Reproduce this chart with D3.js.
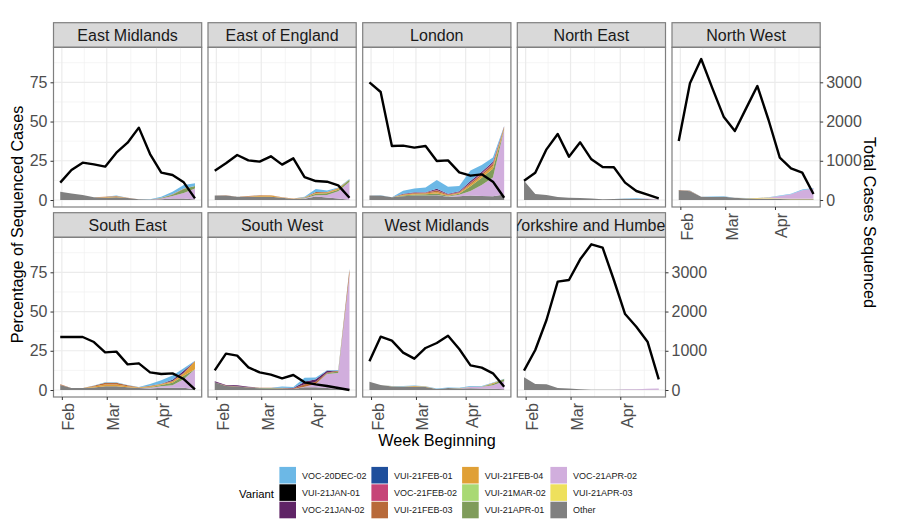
<!DOCTYPE html>
<html>
<head>
<meta charset="utf-8">
<script src="https://cdn.jsdelivr.net/npm/d3@7"></script>
<style>
  body { margin: 0; background: #fff; }
  text { font-family: "Liberation Sans", Arial, sans-serif; }
</style>
</head>
<body>
<script>
const weeks = ['2021-01-31', '2021-02-07', '2021-02-14', '2021-02-21', '2021-02-28', '2021-03-07', '2021-03-14',
  '2021-03-21', '2021-03-28', '2021-04-04', '2021-04-11', '2021-04-18', '2021-04-25'];
const monthTicks = ['2021-02-01', '2021-03-01', '2021-04-01'];
const minorMonthTicks = ['2021-02-15', '2021-03-16', '2021-04-16'];
const percentTicks = [0, 25, 50, 75];
const percentMinorTicks = [12.5, 37.5, 62.5, 87.5];
const casesTicks = [0, 1000, 2000, 3000];

const variants = ['VOC-20DEC-02', 'VUI-21JAN-01', 'VOC-21JAN-02', 'VUI-21FEB-01', 'VOC-21FEB-02', 'VUI-21FEB-03',
  'VUI-21FEB-04', 'VUI-21MAR-02', 'VUI-21APR-01', 'VOC-21APR-02', 'VUI-21APR-03', 'Other'];
const variantColours = ['#6cb8e6', '#000000', '#5f2466', '#1f4f9c', '#c64578', '#b86a3a',
  '#e0a036', '#a9d974', '#7f9c5a', '#d1aedd', '#eee05c', '#808080'];

const regions = ['East Midlands', 'East of England', 'London', 'North East', 'North West',
  'South East', 'South West', 'West Midlands', 'Yorkshire and Humber'];

// total cases sequenced per week (black line, right axis)
const casesEastMidlands = [442, 765, 952, 909, 850, 1206, 1461, 1844, 1172, 697, 637, 450, 42];
const casesEastEngland = [748, 935, 1147, 1011, 977, 1113, 901, 1062, 586, 484, 467, 374, 59];
const casesLondon = [3000, 2753, 1376, 1385, 1334, 1376, 994, 1011, 705, 620, 654, 467, 59];
const casesNorthEast = [493, 697, 1291, 1682, 1105, 1470, 1037, 841, 833, 442, 229, 136, 42];
const casesNorthWest = [1504, 2974, 3594, 2846, 2124, 1759, 2336, 2906, 2039, 1079, 807, 697, 153];
const casesSouthEast = [1351, 1351, 1351, 1223, 960, 977, 654, 680, 450, 408, 425, 280, 17];
const casesSouthWest = [501, 926, 875, 578, 450, 391, 297, 382, 195, 144, 102, 51, 0];
const casesWestMidlands = [731, 1359, 1257, 952, 799, 1071, 1198, 1385, 1045, 629, 569, 425, 85];
const casesYorkshire = [493, 1020, 1784, 2761, 2804, 3331, 3713, 3628, 2804, 1937, 1614, 1232, 272];

// percentage of sequenced cases, only the variants that show up in each region
const sharesEastMidlands = {
  'Other':        [5.3, 4.2, 3.2, 1.7, 1.5, 1.7, 1.2, 0.4, 0.3, 0.5, 1.0, 1.0, 0.3],
  'VOC-21APR-02': [0, 0, 0, 0, 0, 0, 0, 0, 0, 0.5, 1.5, 3.5, 7.0],
  'VUI-21APR-01': [0, 0, 0, 0, 0, 0, 0, 0, 0, 0.3, 0.8, 2.5, 1.7],
  'VUI-21FEB-04': [0, 0, 0, 0, 0.3, 0.5, 0.1, 0, 0, 0, 0, 0, 0],
  'VUI-21FEB-03': [0, 0, 0, 0, 0.2, 0.4, 0.1, 0, 0, 0.2, 0.3, 0.3, 0],
  'VOC-20DEC-02': [0, 0, 0, 0, 0.1, 0.2, 0.1, 0, 0.1, 0.6, 1.7, 2.3, 1.7]
};
const sharesEastEngland = {
  'Other':        [2.8, 2.8, 2.1, 2.1, 2.0, 2.0, 1.4, 0.6, 0.8, 2.3, 1.6, 1.0, 0.2],
  'VOC-21APR-02': [0, 0, 0, 0, 0, 0, 0, 0, 0.3, 0.8, 1.6, 4.5, 11.5],
  'VUI-21APR-01': [0, 0, 0, 0, 0, 0, 0, 0, 0.3, 0.9, 1.1, 1.0, 1.4],
  'VUI-21FEB-04': [0, 0.1, 0, 0.2, 0.7, 0.8, 0.2, 0.2, 0.2, 0.5, 0.5, 0.9, 0],
  'VUI-21FEB-03': [0, 0.1, 0, 0.2, 0.3, 0.2, 0.1, 0.1, 0.1, 0.6, 0.3, 0.2, 0],
  'VOC-20DEC-02': [0, 0, 0, 0, 0.1, 0, 0, 0.1, 0.4, 1.9, 0.9, 0.3, 0.3]
};
const sharesLondon = {
  'Other':        [2.8, 2.8, 1.7, 2.4, 2.8, 2.9, 3.0, 2.0, 2.4, 2.8, 2.6, 2.4, 3.5],
  'VOC-21APR-02': [0, 0, 0, 0, 0, 0, 0.2, 0.3, 1.0, 3.0, 7.0, 12.0, 41.5],
  'VUI-21APR-01': [0, 0, 0, 0.5, 0.7, 0.7, 1.0, 0.4, 0.6, 3.0, 4.5, 5.5, 0.3],
  'VUI-21FEB-04': [0, 0, 0, 0.4, 0.5, 0.5, 0.9, 0.4, 0.5, 1.0, 1.3, 1.8, 0.8],
  'VUI-21FEB-03': [0, 0, 0, 0.4, 0.5, 0.5, 1.0, 0.4, 0.5, 1.0, 1.2, 1.4, 0.6],
  'VOC-21FEB-02': [0, 0, 0, 0, 0.1, 0.1, 0.3, 0.1, 0.1, 0.3, 0.4, 0.4, 0.1],
  'VOC-21JAN-02': [0, 0, 0, 0.3, 0.3, 0.3, 0.8, 0.4, 0.4, 1.0, 1.0, 0.9, 0.2],
  'VOC-20DEC-02': [0, 0.2, 0, 1.9, 2.5, 2.9, 5.5, 4.5, 3.4, 6.7, 4.3, 2.7, 0.2]
};
const sharesNorthEast = {
  'Other':        [12.3, 3.8, 3.2, 1.9, 1.5, 1.3, 0.9, 0.4, 0.6, 0.8, 0.6, 0.6, 0.2],
  'VOC-21APR-02': [0, 0, 0, 0, 0, 0, 0, 0, 0, 0, 0.1, 0.3, 0.1],
  'VOC-20DEC-02': [0, 0, 0, 0, 0, 0, 0, 0, 0, 0.1, 0.4, 0.1, 0]
};
const sharesNorthWest = {
  'Other':        [6.2, 5.6, 2.0, 1.9, 2.0, 1.4, 1.0, 0.8, 0.7, 0.6, 0.5, 0.5, 0.4],
  'VUI-21APR-03': [0, 0, 0, 0, 0, 0, 0, 0.3, 0.4, 0.3, 0.3, 0.3, 0.4],
  'VOC-21APR-02': [0, 0, 0, 0, 0, 0, 0, 0, 0.3, 1.6, 2.8, 5.4, 6.5],
  'VUI-21FEB-04': [0, 0, 0, 0, 0, 0, 0.1, 0.2, 0.2, 0, 0, 0, 0],
  'VUI-21FEB-03': [0.2, 0.3, 0, 0, 0, 0, 0, 0, 0, 0, 0, 0, 0],
  'VOC-20DEC-02': [0, 0.1, 0, 0.3, 0.4, 0.1, 0.1, 0, 0.1, 0.3, 0.4, 0.5, 0.4]
};
const sharesSouthEast = {
  'Other':        [3.2, 1.2, 1.2, 1.6, 2.4, 2.4, 1.8, 1.2, 1.0, 1.4, 1.4, 1.4, 0.4],
  'VOC-21APR-02': [0, 0, 0, 0, 0, 0, 0, 0.1, 0.4, 1.0, 1.7, 5.5, 12.8],
  'VUI-21APR-01': [0, 0, 0, 0, 0, 0, 0, 0, 0.4, 0.8, 1.5, 2.2, 0.1],
  'VUI-21FEB-04': [0, 0, 0, 0.6, 1.1, 1.1, 0.6, 0.3, 0.4, 0.4, 0.8, 1.5, 5.0],
  'VUI-21FEB-03': [0.4, 0.1, 0.1, 0.5, 1.1, 1.1, 0.6, 0.2, 0.5, 0.4, 0.4, 0.4, 0.1],
  'VOC-21JAN-02': [0, 0, 0, 0, 0, 0, 0, 0, 0, 0, 0.7, 1.2, 0.1],
  'VOC-20DEC-02': [0, 0, 0, 0.1, 0.3, 0.3, 0.2, 0.1, 1.1, 2.2, 2.8, 1.7, 0.1]
};
const sharesSouthWest = {
  'Other':        [5.0, 2.6, 2.2, 1.6, 1.1, 1.0, 1.0, 0.7, 1.8, 1.8, 1.2, 0.8, 0.3],
  'VOC-21APR-02': [0, 0, 0, 0, 0, 0, 0, 0, 0.3, 2.0, 9.0, 10.0, 73.0],
  'VUI-21APR-01': [0, 0, 0, 0, 0.2, 0.2, 0.1, 0, 0, 0, 0.5, 1.0, 0.2],
  'VUI-21FEB-03': [0, 0.2, 0.2, 0.2, 0.2, 0.2, 0.2, 0.3, 1.5, 1.5, 0.5, 0.4, 3.5],
  'VOC-21JAN-02': [0.5, 0.4, 0.6, 0.3, 0, 0.1, 0.2, 0.3, 1.7, 1.5, 1.0, 0, 0],
  'VOC-20DEC-02': [0, 0, 0, 0, 0, 0, 0.8, 0.6, 2.5, 1.2, 0.4, 0.5, 0.5]
};
const sharesWestMidlands = {
  'Other':        [5.3, 3.2, 2.3, 2.1, 2.1, 1.9, 0.6, 1.3, 1.0, 1.1, 1.0, 0.8, 0.5],
  'VOC-21APR-02': [0, 0, 0, 0, 0, 0, 0, 0, 0, 0.8, 1.0, 2.2, 5.0],
  'VUI-21APR-01': [0, 0, 0, 0, 0, 0, 0, 0, 0, 0, 0.2, 0.8, 1.5],
  'VUI-21FEB-04': [0, 0, 0.1, 0.2, 0.4, 0.3, 0.1, 0, 0.1, 0.1, 0.1, 0.6, 0],
  'VOC-20DEC-02': [0, 0, 0.1, 0.3, 0.3, 0.2, 0.3, 0.3, 0.4, 0.5, 0.3, 0.4, 0.2]
};
const sharesYorkshire = {
  'Other':        [8.1, 3.8, 3.6, 1.3, 0.9, 0.4, 0.2, 0.2, 0.2, 0.2, 0.2, 0.2, 0.2],
  'VOC-21APR-02': [0, 0, 0, 0, 0, 0, 0, 0, 0, 0.2, 0.3, 0.6, 0.8]
};

const regionCases = [casesEastMidlands, casesEastEngland, casesLondon, casesNorthEast, casesNorthWest,
  casesSouthEast, casesSouthWest, casesWestMidlands, casesYorkshire];
const regionShares = [sharesEastMidlands, sharesEastEngland, sharesLondon, sharesNorthEast, sharesNorthWest,
  sharesSouthEast, sharesSouthWest, sharesWestMidlands, sharesYorkshire];

const WIDTH = 897, HEIGHT = 531;
const parseDay = d3.timeParse('%Y-%m-%d');
const weekDates = weeks.map(parseDay);

const PANEL_W = 148.2, PANEL_H = 159.7, STRIP_H = 24.6;
const COL_X = [53.5, 208, 362.7, 517.3, 672];
const ROW_Y = [47.3, 237.3];
const PERCENT_PER_CASE = 0.025;
const PCT_DOMAIN = [-4.46, 97.3];

const svg = d3.select('body').append('svg')
  .attr('width', WIDTH)
  .attr('height', HEIGHT);

// ggplot style 5% expansion on the time axis
const dayExtent = d3.extent(weekDates);
const pad = (dayExtent[1] - dayExtent[0]) * 0.05;
const x = d3.scaleTime()
  .domain([new Date(+dayExtent[0] - pad), new Date(+dayExtent[1] + pad)])
  .range([0, PANEL_W]);
const yPct = d3.scaleLinear().domain(PCT_DOMAIN).range([PANEL_H, 0]);
const yCases = d3.scaleLinear().domain(PCT_DOMAIN.map(d => d / PERCENT_PER_CASE)).range([PANEL_H, 0]);

const stackOrder = variants.slice().reverse(); // Other sits at the bottom
const colour = d3.scaleOrdinal(variants, variantColours);

const area = d3.area()
  .x(d => x(weekDates[d.data.i]))
  .y0(d => yPct(d[0]))
  .y1(d => yPct(d[1]));

const caseLine = d3.line()
  .x((d, i) => x(weekDates[i]))
  .y(d => yCases(d));

function styleAxis(g) {
  g.select('.domain').remove();
  g.selectAll('.tick line').attr('stroke', '#333').attr('stroke-width', 1);
  g.selectAll('.tick text').attr('fill', '#4d4d4d').style('font-size', '16px');
}

regions.forEach((region, i) => {
  const col = i % 5, row = i < 5 ? 0 : 1;
  const panel = svg.append('g').attr('transform', `translate(${COL_X[col]},${ROW_Y[row]})`);

  // strip
  const clipId = 'strip' + i;
  panel.append('clipPath').attr('id', clipId).append('rect')
    .attr('y', -STRIP_H).attr('width', PANEL_W).attr('height', STRIP_H);
  panel.append('rect')
    .attr('y', -STRIP_H).attr('width', PANEL_W).attr('height', STRIP_H)
    .attr('fill', '#d9d9d9').attr('stroke', '#7f7f7f').attr('stroke-width', 1.2);
  panel.append('g').attr('clip-path', `url(#${clipId})`).append('text')
    .attr('x', PANEL_W / 2).attr('y', -6.8)
    .attr('text-anchor', 'middle').attr('fill', '#1a1a1a')
    .style('font-size', '16px')
    .text(region);

  // grid
  const grid = panel.append('g');
  grid.selectAll('.minorH').data(percentMinorTicks).enter().append('line')
    .attr('x2', PANEL_W).attr('y1', d => yPct(d)).attr('y2', d => yPct(d))
    .attr('stroke', '#f0f0f0').attr('stroke-width', 0.7);
  grid.selectAll('.minorV').data(minorMonthTicks.map(parseDay)).enter().append('line')
    .attr('y2', PANEL_H).attr('x1', d => x(d)).attr('x2', d => x(d))
    .attr('stroke', '#f0f0f0').attr('stroke-width', 0.7);
  grid.selectAll('.majorH').data(percentTicks).enter().append('line')
    .attr('x2', PANEL_W).attr('y1', d => yPct(d)).attr('y2', d => yPct(d))
    .attr('stroke', '#ebebeb').attr('stroke-width', 1.2);
  grid.selectAll('.majorV').data(monthTicks.map(parseDay)).enter().append('line')
    .attr('y2', PANEL_H).attr('x1', d => x(d)).attr('x2', d => x(d))
    .attr('stroke', '#ebebeb').attr('stroke-width', 1.2);

  // stacked shares
  const shares = regionShares[i];
  const rows = weekDates.map((w, k) => {
    const r = { i: k };
    stackOrder.forEach(v => { r[v] = shares[v] ? shares[v][k] : 0; });
    return r;
  });
  const layers = d3.stack().keys(stackOrder)(rows);
  panel.selectAll('.layer').data(layers.filter(l => shares[l.key])).enter().append('path')
    .attr('d', area)
    .attr('fill', d => colour(d.key));

  // total cases
  panel.append('path')
    .attr('d', caseLine(regionCases[i]))
    .attr('fill', 'none').attr('stroke', '#000').attr('stroke-width', 2.4)
    .attr('stroke-linejoin', 'round');

  panel.append('rect')
    .attr('width', PANEL_W).attr('height', PANEL_H)
    .attr('fill', 'none').attr('stroke', '#7f7f7f').attr('stroke-width', 1.2);

  // left axis only on the first column
  if (col === 0) {
    panel.append('g')
      .call(d3.axisLeft(yPct).tickValues(percentTicks).tickSize(3).tickPadding(3))
      .call(styleAxis);
  }

  // right axis on the last panel of each row
  if (i === 4 || i === 8) {
    panel.append('g').attr('transform', `translate(${PANEL_W},0)`)
      .call(d3.axisRight(yCases).tickValues(casesTicks).tickFormat(d3.format('d')).tickSize(3).tickPadding(3))
      .call(styleAxis);
  }

  // x axis under the bottom panel of each column
  if (row === 1 || col === 4) {
    panel.append('g').attr('transform', `translate(0,${PANEL_H})`)
      .call(d3.axisBottom(x).tickValues(monthTicks.map(parseDay)).tickFormat(d3.timeFormat('%b')).tickSize(3))
      .call(styleAxis)
      .selectAll('.tick text')
      .attr('text-anchor', 'end')
      .attr('transform', 'rotate(-90)')
      .attr('x', -6).attr('y', 12).attr('dy', 0); // label hangs to the right of its tick
  }
});

// axis titles
svg.append('text')
  .attr('transform', 'translate(23,224.5) rotate(-90)')
  .attr('text-anchor', 'middle').style('font-size', '16.2px')
  .text('Percentage of Sequenced Cases');
svg.append('text')
  .attr('transform', 'translate(864,222.5) rotate(90)')
  .attr('text-anchor', 'middle').style('font-size', '16.2px')
  .text('Total Cases Sequenced');
svg.append('text')
  .attr('x', 437).attr('y', 445.5)
  .attr('text-anchor', 'middle').style('font-size', '16.2px')
  .text('Week Beginning');

// legend, filled column by column
const KEY_SIZE = 17.4;
const legendColX = [279, 371, 461.7, 550];
const legendTop = 466.5;
svg.append('text')
  .attr('x', 239).attr('y', 497.5)
  .style('font-size', '11.3px')
  .text('Variant');
const legend = svg.selectAll('.key').data(variants).enter().append('g')
  .attr('transform', (d, i) => `translate(${legendColX[Math.floor(i / 3)]},${legendTop + (i % 3) * KEY_SIZE})`);
legend.append('rect')
  .attr('x', 0.4).attr('y', 0.4)
  .attr('width', KEY_SIZE - 0.8).attr('height', KEY_SIZE - 0.8)
  .attr('fill', d => colour(d));
legend.append('text')
  .attr('x', 23).attr('y', KEY_SIZE / 2 + 3.3)
  .style('font-size', '9px').attr('fill', '#1a1a1a')
  .text(d => d);
</script>
</body>
</html>
